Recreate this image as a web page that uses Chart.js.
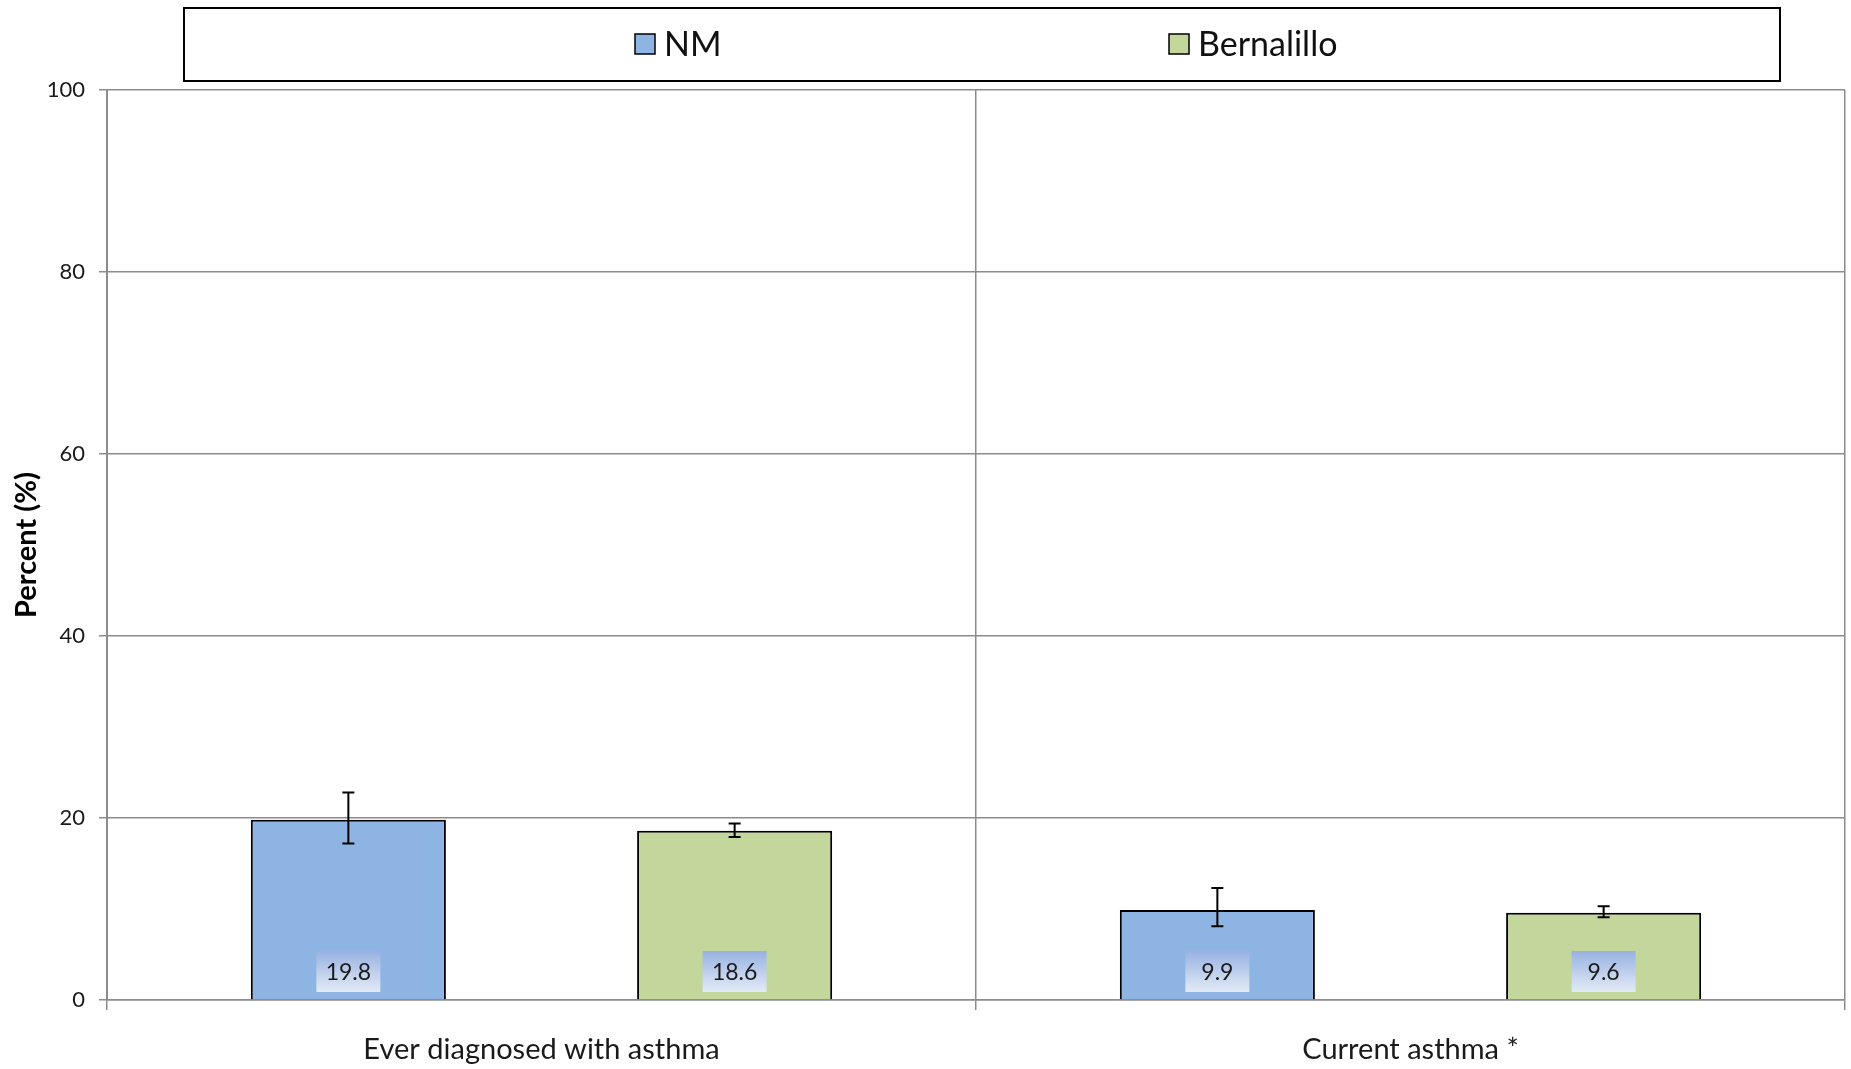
<!DOCTYPE html>
<html>
<head>
<meta charset="utf-8">
<script src="https://cdn.jsdelivr.net/npm/chart.js@4.4.1/dist/chart.umd.min.js"></script>
<style>
  html, body { margin: 0; padding: 0; background: #fff; }
  #wrap { width: 1851px; height: 1069px; }
</style>
</head>
<body>
<div id="wrap"><canvas id="myChart" width="1851" height="1069"></canvas></div>
<script>
// chart values
var categories = ['Ever diagnosed with asthma', 'Current asthma *'];
var seriesNames = ['NM', 'Bernalillo'];
var nmValues = [19.8, 9.9];
var nmLower = [17.2, 8.1];
var nmUpper = [22.8, 12.3];
var bernValues = [18.6, 9.6];
var bernLower = [17.9, 9.1];
var bernUpper = [19.4, 10.3];
var yTicks = [0, 20, 40, 60, 80, 100];

var lowerBounds = [nmLower, bernLower];
var upperBounds = [nmUpper, bernUpper];
var gridGray = '#8c8c8c';

// error bars + value boxes at the foot of each bar
var barExtras = {
    id: 'barExtras',
    afterDatasetsDraw: function(chart) {
        var ctx = chart.ctx;
        var y = chart.scales.y;
        chart.data.datasets.forEach(function(ds, i) {
            var meta = chart.getDatasetMeta(i);
            meta.data.forEach(function(bar, j) {
                var hi = y.getPixelForValue(upperBounds[i][j]);
                var lo = y.getPixelForValue(lowerBounds[i][j]);
                ctx.save();
                ctx.strokeStyle = '#000';
                ctx.lineWidth = 2;
                ctx.beginPath();
                ctx.moveTo(bar.x, hi); ctx.lineTo(bar.x, lo);
                ctx.moveTo(bar.x - 6, hi); ctx.lineTo(bar.x + 6, hi);
                ctx.moveTo(bar.x - 6, lo); ctx.lineTo(bar.x + 6, lo);
                ctx.stroke();

                // label box
                var w = 64, h = 41;
                var bottom = chart.chartArea.bottom - 8;
                var top = bottom - h;
                var g = ctx.createLinearGradient(0, top, 0, bottom);
                g.addColorStop(0, '#97b2e2');
                g.addColorStop(1, '#e3eaf6');
                ctx.fillStyle = g;
                ctx.fillRect(bar.x - w / 2, top, w, h);
                ctx.fillStyle = '#1a1a1a';
                ctx.font = '23px Lato';
                ctx.textAlign = 'center';
                ctx.textBaseline = 'middle';
                ctx.fillText(ds.data[j].toFixed(1), bar.x, top + h / 2 + 1);
                ctx.restore();
            });
        });
    }
};

// boxed legend across the top
var boxedLegend = {
    id: 'boxedLegend',
    afterDraw: function(chart) {
        var ctx = chart.ctx;
        ctx.save();
        ctx.strokeStyle = '#000';
        ctx.lineWidth = 2;
        ctx.strokeRect(184, 8, 1596, 73);
        var itemX = [635, 1169];
        ctx.font = '34px Lato';
        ctx.textBaseline = 'middle';
        ctx.textAlign = 'left';
        chart.data.datasets.forEach(function(ds, i) {
            var x = itemX[i];
            ctx.fillStyle = ds.backgroundColor;
            ctx.fillRect(x, 34, 20, 20);
            ctx.lineWidth = 1.5;
            ctx.strokeRect(x, 34, 20, 20);
            ctx.fillStyle = '#111';
            ctx.fillText(ds.label, x + 29, 45);
        });
        ctx.restore();
    }
};

function renderChart() {
    var ctx = document.getElementById('myChart').getContext('2d');
    return new Chart(ctx, {
        type: 'bar',
        data: {
            labels: categories,
            datasets: [{
                label: seriesNames[0],
                data: nmValues,
                backgroundColor: '#8eb4e3',
                borderColor: '#000',
                borderWidth: 2,
                categoryPercentage: 0.889,
                barPercentage: 0.505
            }, {
                label: seriesNames[1],
                data: bernValues,
                backgroundColor: '#c3d69b',
                borderColor: '#000',
                borderWidth: 2,
                categoryPercentage: 0.889,
                barPercentage: 0.505
            }]
        },
        options: {
            responsive: false,
            animation: false,
            devicePixelRatio: 1,
            layout: { padding: { top: 90, right: 6, left: 0, bottom: 0 } },
            plugins: {
                legend: { display: false },
                tooltip: { enabled: false }
            },
            scales: {
                x: {
                    grid: { offset: true, color: gridGray, lineWidth: 1.5, tickLength: 10 },
                    border: { color: gridGray, width: 1.5 },
                    ticks: { font: { family: 'Lato', size: 29 }, color: '#1a1a1a', padding: 22 },
                    afterFit: function(s) { s.height = 69; }
                },
                y: {
                    min: 0,
                    max: 100,
                    afterBuildTicks: function(s) { s.ticks = yTicks.map(function(v) { return { value: v }; }); },
                    grid: { color: gridGray, lineWidth: 1.5, tickLength: 8 },
                    border: { color: gridGray, width: 2 },
                    ticks: { font: { family: 'Lato', size: 22 }, color: '#1a1a1a', padding: 14 },
                    title: {
                        display: true,
                        text: 'Percent (%)',
                        font: { family: 'Lato', size: 29, weight: 'bold' },
                        color: '#000',
                        padding: { top: 9, bottom: 4 }
                    },
                    afterFit: function(s) { s.width = 107; }
                }
            }
        },
        plugins: [barExtras, boxedLegend]
    });
}

renderChart();
</script>
</body>
</html>
